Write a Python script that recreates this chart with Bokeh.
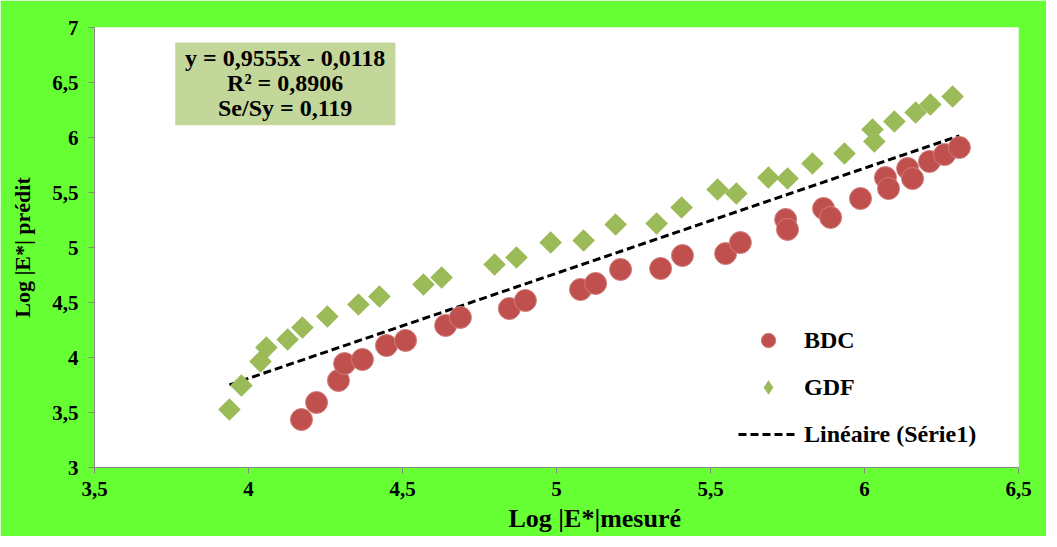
from bokeh.plotting import figure
from bokeh.models import (Range1d, FixedTicker, BoxAnnotation, Label, Legend,
                          LegendItem, Title)
from bokeh.embed import file_html
from bokeh.resources import INLINE
import math

# ---------------- data ----------------
bdc_x = [4.172, 4.221, 4.292, 4.312, 4.370, 4.448, 4.510, 4.640, 4.688, 4.847,
         4.899, 5.078, 5.127, 5.208, 5.338, 5.409, 5.549, 5.597, 5.744, 5.750,
         5.867, 5.890, 5.987, 6.068, 6.078, 6.140, 6.156, 6.211, 6.260, 6.308]
bdc_y = [3.436, 3.591, 3.791, 3.945, 3.982, 4.109, 4.155, 4.291, 4.364, 4.445,
         4.518, 4.618, 4.673, 4.800, 4.809, 4.927, 4.945, 5.045, 5.255, 5.164,
         5.355, 5.273, 5.445, 5.636, 5.536, 5.718, 5.627, 5.782, 5.845, 5.909]

gdf_x = [3.938, 3.977, 4.039, 4.058, 4.127, 4.175, 4.256, 4.357, 4.425, 4.568,
         4.627, 4.799, 4.870, 4.981, 5.088, 5.192, 5.325, 5.406, 5.523, 5.584,
         5.688, 5.750, 5.831, 5.935, 6.026, 6.032, 6.097, 6.166, 6.214, 6.286]
gdf_y = [3.527, 3.745, 3.964, 4.090, 4.164, 4.273, 4.373, 4.482, 4.555, 4.664,
         4.727, 4.845, 4.909, 5.045, 5.064, 5.209, 5.218, 5.364, 5.527, 5.491,
         5.636, 5.627, 5.764, 5.855, 6.073, 5.964, 6.145, 6.227, 6.300, 6.373]

trend_slope = 0.9555
trend_intercept = -0.0118

x_ticks = [3.5, 4.0, 4.5, 5.0, 5.5, 6.0, 6.5]
x_tick_labels = ["3,5", "4", "4,5", "5", "5,5", "6", "6,5"]
y_ticks = [3.0, 3.5, 4.0, 4.5, 5.0, 5.5, 6.0, 6.5, 7.0]
y_tick_labels = ["3", "3,5", "4", "4,5", "5", "5,5", "6", "6,5", "7"]

eq_lines = ["y = 0,9555x - 0,0118", "R² = 0,8906", "Se/Sy = 0,119"]
series_names = ["BDC", "GDF", "Linéaire (Série1)"]
x_title = "Log |E*|mesuré"
y_title = "Log |E*| prédit"

# ---------------- style ----------------
FONT = "Liberation Serif"
GREEN_BG = "#66FF33"
AXIS_GRAY = "#868686"
RED = "#C0504D"
OLIVE = "#9BBB59"

p = figure(width=1046, height=536, output_backend="svg", toolbar_location=None,
           x_range=Range1d(3.5, 6.5), y_range=Range1d(3, 7),
           min_border_left=94, min_border_top=27, min_border_right=28,
           min_border_bottom=68)
p.border_fill_color = GREEN_BG
p.background_fill_color = "white"
p.outline_line_color = None
p.grid.visible = False

for ax, ticks, labels in ((p.xaxis[0], x_ticks, x_tick_labels),
                          (p.yaxis[0], y_ticks, y_tick_labels)):
    ax.ticker = FixedTicker(ticks=ticks)
    ax.major_label_overrides = {t: l for t, l in zip(ticks, labels)}
    ax.axis_line_color = AXIS_GRAY
    ax.major_tick_line_color = AXIS_GRAY
    ax.major_tick_in = 0
    ax.major_tick_out = 6
    ax.minor_tick_line_color = None
    ax.major_label_text_font = FONT
    ax.major_label_text_font_style = "bold"
    ax.major_label_text_font_size = "21px"
    ax.major_label_text_color = "black"

p.xaxis.major_label_standoff = 8
p.yaxis.major_label_standoff = 10

p.yaxis.axis_label = y_title
p.yaxis.axis_label_text_font = FONT
p.yaxis.axis_label_text_font_style = "bold"
p.yaxis.axis_label_text_font_size = "22px"
p.yaxis.axis_label_text_color = "black"
p.yaxis.axis_label_standoff = 14

xt = Title(text=x_title, align="left", offset=414, text_font=FONT,
           text_font_style="bold", text_font_size="26px", text_color="black",
           standoff=7)
p.add_layout(xt, "below")

# equation box
p.add_layout(BoxAnnotation(left=3.762, right=4.477, bottom=6.112, top=6.864,
                           fill_color="#C4D79B", fill_alpha=1.0, line_color=None,
                           level="underlay"))
for i, txt in enumerate(eq_lines):
    p.add_layout(Label(x=4.119, y=6.719 - i * 0.226, text=txt, text_align="center",
                       text_baseline="middle", text_font=FONT,
                       text_font_style="bold", text_font_size="24px",
                       text_color="black"))

# trend line
tx = [min(bdc_x + gdf_x), max(bdc_x + gdf_x)]
ty = [trend_slope * v + trend_intercept for v in tx]
trend = p.line(tx, ty, line_color="black", line_width=3, line_dash="8 4")

r_bdc = p.scatter(bdc_x, bdc_y, marker="circle", size=22, fill_color=RED,
                  line_color="#D07F7C", line_width=1)
r_gdf = p.scatter(gdf_x, gdf_y, marker="square", size=16, angle=math.pi / 4,
                  fill_color=OLIVE, line_color=None)
# legend-only swatch for the diamond series (legend ignores marker angle);
# its single point is NaN so nothing is drawn in the plot area
r_gdf_key = p.scatter(x=[float("nan")], y=[float("nan")], marker="diamond",
                      fill_color=OLIVE, line_color=None)

legend = Legend(items=[LegendItem(label=series_names[0], renderers=[r_bdc]),
                       LegendItem(label=series_names[1], renderers=[r_gdf_key]),
                       LegendItem(label=series_names[2], renderers=[trend])],
                location=(644, 15), glyph_width=60, glyph_height=36, spacing=11,
                padding=0, margin=0, label_standoff=6,
                label_text_font=FONT, label_text_font_style="bold",
                label_text_font_size="24px", label_text_color="black",
                border_line_color=None, background_fill_alpha=0)
p.add_layout(legend)

open("out.html", "w").write(file_html(p, INLINE))
